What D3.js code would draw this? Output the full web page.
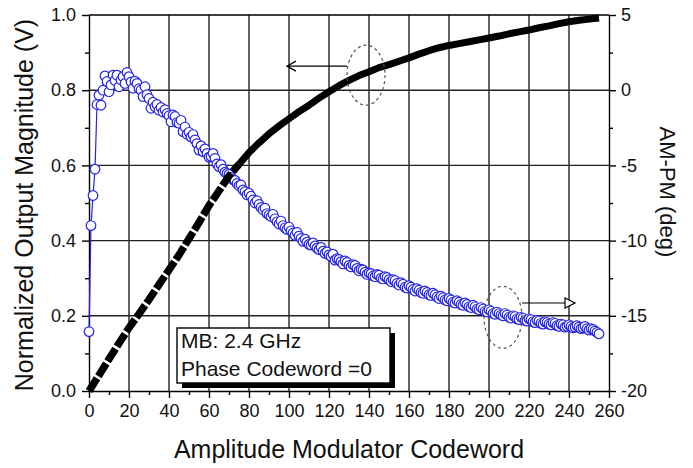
<!DOCTYPE html>
<html><head><meta charset="utf-8">
<script src="https://cdn.jsdelivr.net/npm/d3@7"></script>
<style>html,body{margin:0;padding:0;background:#fff;}svg{display:block;font-family:"Liberation Sans",Arial,sans-serif;}</style>
</head><body>
<script>
// ---- data ----
const xTicks = [0,20,40,60,80,100,120,140,160,180,200,220,240,260];
const yLeftTicks = [0.0,0.2,0.4,0.6,0.8,1.0];
const yRightTicks = [-20,-15,-10,-5,0,5];

// AM-AM (normalized output magnitude, V) vs codeword
const magCode = [0,5,10,15,20,25,30,35,40,45,50,55,60,65,70,75,80,85,90,95,100,105,110,115,120,125,130,135,140,145,150,155,160,165,170,175,180,185,190,195,200,205,210,215,220,225,230,235,240,245,250,255];
const magVal = [0.000,0.042,0.085,0.127,0.168,0.205,0.243,0.283,0.322,0.362,0.405,0.448,0.493,0.532,0.572,0.603,0.634,0.660,0.684,0.705,0.724,0.743,0.760,0.779,0.796,0.812,0.826,0.839,0.849,0.860,0.868,0.877,0.886,0.896,0.905,0.913,0.919,0.924,0.929,0.934,0.939,0.944,0.950,0.955,0.960,0.966,0.971,0.977,0.982,0.986,0.989,0.992];

// AM-PM (deg), one value per codeword 0..255
const phaseDeg = [
-16.05,-9.0,-7.0,-5.25,-0.95,-0.33,-1.0,0.0,0.95,0.58,
-0.1,0.35,1.0,0.65,1.0,0.23,0.68,0.9,0.45,1.18,
0.9,0.55,0.13,0.6,0.45,0.1,0.0,-0.43,0.23,-0.3,
-0.55,-1.2,-0.8,-1.1,-0.95,-1.33,-1.15,-1.45,-1.3,-1.55,
-1.7,-2.1,-1.65,-1.75,-2.15,-2.2,-2.0,-2.75,-2.45,-2.93,
-2.8,-3.1,-2.95,-3.3,-3.55,-3.98,-3.7,-4.08,-3.9,-4.2,
-4.45,-4.4,-4.2,-4.53,-4.9,-5.08,-4.95,-5.25,-5.45,-5.53,
-5.6,-5.8,-5.95,-6.0,-6.2,-6.35,-6.3,-6.63,-6.75,-6.95,
-6.85,-7.05,-7.3,-7.5,-7.35,-7.6,-7.8,-7.95,-7.85,-8.2,
-8.3,-8.4,-8.25,-8.55,-8.75,-8.9,-8.7,-9.0,-9.15,-9.25,
-9.1,-9.35,-9.5,-9.65,-9.45,-9.7,-9.85,-10.05,-9.9,-10.1,
-10.25,-10.3,-10.15,-10.35,-10.5,-10.6,-10.45,-10.7,-10.85,-10.75,
-10.95,-11.05,-10.9,-11.3,-11.2,-11.25,-11.4,-11.55,-11.35,-11.45,
-11.65,-11.75,-11.6,-11.65,-11.85,-12.0,-11.9,-11.95,-12.1,-12.25,
-12.15,-12.2,-12.35,-12.4,-12.25,-12.3,-12.5,-12.55,-12.4,-12.45,
-12.6,-12.72,-12.6,-12.65,-12.85,-12.95,-12.8,-12.9,-13.1,-13.15,
-13.0,-13.1,-13.25,-13.35,-13.2,-13.3,-13.45,-13.5,-13.35,-13.45,
-13.6,-13.65,-13.5,-13.6,-13.75,-13.85,-13.7,-13.8,-13.95,-14.0,
-13.85,-13.95,-14.1,-14.15,-14.0,-14.1,-14.25,-14.3,-14.15,-14.25,
-14.4,-14.45,-14.3,-14.4,-14.55,-14.6,-14.45,-14.55,-14.7,-14.75,
-14.6,-14.7,-14.85,-14.9,-14.75,-14.85,-14.95,-15.0,-14.85,-14.95,
-15.1,-15.15,-15.0,-15.05,-15.2,-15.25,-15.1,-15.15,-15.3,-15.35,
-15.2,-15.25,-15.4,-15.45,-15.3,-15.35,-15.5,-15.55,-15.4,-15.45,
-15.55,-15.6,-15.45,-15.5,-15.65,-15.7,-15.55,-15.6,-15.75,-15.7,
-15.6,-15.7,-15.8,-15.75,-15.65,-15.75,-15.85,-15.8,-15.7,-15.85,
-15.95,-15.85,-15.9,-16.0,-16.1,-16.2];

// ---- layout ----
const W = 693, H = 468;
const L = 89, R = 609, T = 15, B = 391;
const svg = d3.select("body").append("svg").attr("width", W).attr("height", H);

const x = d3.scaleLinear().domain([0,260]).range([L,R]);
const yL = d3.scaleLinear().domain([0,1]).range([B,T]);
const yR = d3.scaleLinear().domain([-20,5]).range([B,T]);

// grid
const grid = svg.append("g").attr("stroke","#222").attr("stroke-width",1.4);
grid.selectAll("line.v").data(xTicks.filter(d=>d>0&&d<260)).join("line")
  .attr("x1",d=>x(d)).attr("x2",d=>x(d)).attr("y1",T).attr("y2",B);
grid.selectAll("line.h").data(yLeftTicks.filter(d=>d>0&&d<1)).join("line")
  .attr("x1",L).attr("x2",R).attr("y1",d=>yL(d)).attr("y2",d=>yL(d));

// axes
const fs = 18;
const ax = svg.append("g").attr("class","axes");
function styleAxis(g){
  g.selectAll(".domain").attr("stroke","#000").attr("stroke-width",1.4);
  g.selectAll(".tick line").attr("stroke","#000").attr("stroke-width",1.4);
  g.selectAll(".tick text").attr("fill","#111").style("font-size",fs+"px").style("font-family",'"Liberation Sans",Arial,sans-serif');
}
const xMinor = d3.range(10,260,20);
const yLMinor = d3.range(0.1,1,0.2);
const yRMinor = d3.range(-17.5,5,5);
function minor(g){ g.select(".domain").remove(); g.selectAll("line").attr("stroke","#000").attr("stroke-width",1.4); }

const gx = ax.append("g").attr("transform",`translate(0,${B})`)
  .call(d3.axisBottom(x).tickValues(xTicks).tickFormat(d3.format("d")).tickSize(7).tickSizeOuter(0).tickPadding(6));
styleAxis(gx);
ax.append("g").attr("transform",`translate(0,${B})`)
  .call(d3.axisBottom(x).tickValues(xMinor).tickFormat("").tickSize(4).tickSizeOuter(0)).call(minor);

const gyl = ax.append("g").attr("transform",`translate(${L},0)`)
  .call(d3.axisLeft(yL).tickValues(yLeftTicks).tickFormat(d3.format(".1f")).tickSize(7).tickSizeOuter(0).tickPadding(6));
styleAxis(gyl);
ax.append("g").attr("transform",`translate(${L},0)`)
  .call(d3.axisLeft(yL).tickValues(yLMinor).tickFormat("").tickSize(4).tickSizeOuter(0)).call(minor);

const gyr = ax.append("g").attr("transform",`translate(${R},0)`)
  .call(d3.axisRight(yR).tickValues(yRightTicks).tickFormat(d3.format("d")).tickSize(7).tickSizeOuter(0).tickPadding(5));
styleAxis(gyr);
gyr.selectAll(".tick text").text(d=> d<0 ? "-"+Math.abs(d) : d);
ax.append("g").attr("transform",`translate(${R},0)`)
  .call(d3.axisRight(yR).tickValues(yRMinor).tickFormat("").tickSize(4).tickSizeOuter(0)).call(minor);

ax.append("line").attr("x1",L).attr("x2",R).attr("y1",T).attr("y2",T).attr("stroke","#000").attr("stroke-width",1.4);

// ---- AM-PM series (blue open circles) ----
const blue = "#2424e6";
const phasePts = phaseDeg.map((v,i)=>[i,v]);
svg.append("path").datum(phasePts)
  .attr("d", d3.line().x(d=>x(d[0])).y(d=>yR(d[1])))
  .attr("fill","none").attr("stroke",blue).attr("stroke-width",1.2);
svg.append("g").selectAll("circle").data(phasePts).join("circle")
  .attr("cx",d=>x(d[0])).attr("cy",d=>yR(d[1])).attr("r",4.8)
  .attr("fill","#fff").attr("stroke",blue).attr("stroke-width",1.2);

// ---- AM-AM series (thick black) ----
const magPts = magCode.map((c,i)=>[c,magVal[i]]);
const magLine = d3.line().x(d=>x(d[0])).y(d=>yL(d[1]));
svg.append("path").datum(magPts.filter(d=>d[0]<=75))
  .attr("d", magLine).attr("fill","none").attr("stroke","#000").attr("stroke-width",7.5)
  .attr("stroke-dasharray","15,2.5");
svg.append("path").datum(magPts.filter(d=>d[0]>=75))
  .attr("d", magLine).attr("fill","none").attr("stroke","#000").attr("stroke-width",7).attr("stroke-linejoin","round");

// ---- annotations ----
svg.append("ellipse").attr("cx",x(140)-3).attr("cy",yL(0.84)).attr("rx",19).attr("ry",30)
  .attr("fill","none").attr("stroke","#555").attr("stroke-width",1.2).attr("stroke-dasharray","3,3");
svg.append("ellipse").attr("cx",x(207)).attr("cy",yR(-15.1)).attr("rx",19).attr("ry",31)
  .attr("fill","none").attr("stroke","#555").attr("stroke-width",1.2).attr("stroke-dasharray","3,3");
const ay1 = yL(0.864);
svg.append("line").attr("x1",x(129)).attr("x2",x(99)).attr("y1",ay1).attr("y2",ay1).attr("stroke","#000").attr("stroke-width",1.2);
svg.append("path").attr("d",`M${x(99)+9},${ay1-5}L${x(99)},${ay1}L${x(99)+9},${ay1+5}`).attr("fill","none").attr("stroke","#000").attr("stroke-width",1.2);
const ay2 = yR(-14.15);
svg.append("line").attr("x1",x(216.5)).attr("x2",x(243)).attr("y1",ay2).attr("y2",ay2).attr("stroke","#000").attr("stroke-width",1.2);
svg.append("path").attr("d",`M${x(243)-10},${ay2-5}L${x(243)},${ay2}L${x(243)-10},${ay2+5}Z`).attr("fill","#fff").attr("stroke","#000").attr("stroke-width",1.2);

// ---- legend box ----
const lg = svg.append("g");
lg.append("rect").attr("x",182).attr("y",333).attr("width",213).attr("height",55).attr("fill","#000");
lg.append("rect").attr("x",177).attr("y",328).attr("width",213).attr("height",55).attr("fill","#fff").attr("stroke","#000").attr("stroke-width",1.4);
lg.append("text").attr("x",181).attr("y",348).style("font-size","21px").attr("fill","#111").text("MB: 2.4 GHz");
lg.append("text").attr("x",181).attr("y",376).style("font-size","21px").attr("fill","#111").text("Phase Codeword =0");

// ---- axis titles ----
svg.append("text").attr("x",(L+R)/2).attr("y",458).attr("text-anchor","middle").style("font-size","25px").attr("fill","#111").text("Amplitude Modulator Codeword");
svg.append("text").attr("transform",`translate(33,${(T+B)/2+2}) rotate(-90)`).attr("text-anchor","middle").style("font-size","25px").attr("fill","#111").text("Normalized Output Magnitude (V)");
svg.append("text").attr("transform",`translate(660,192) rotate(90)`).attr("text-anchor","middle").style("font-size","22px").attr("fill","#111").text("AM-PM (deg)");
</script>
</body></html>
